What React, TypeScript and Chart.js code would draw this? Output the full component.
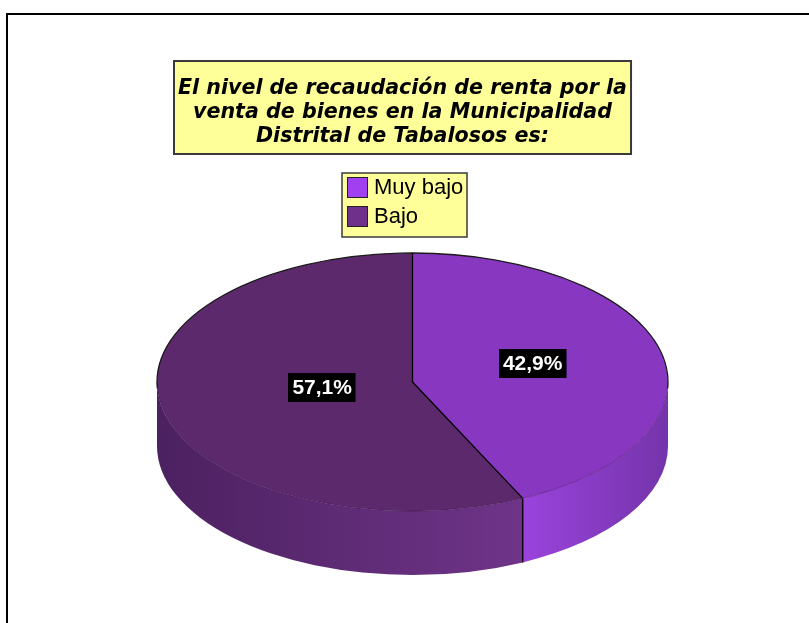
import React, { useEffect, useRef } from "react";
import { Chart, registerables } from "chart.js";

Chart.register(...registerables);

// ---- data ----
const categories = ["Muy bajo", "Bajo"];
const percentValues = [42.9, 57.1];
const titleLines = [
  "El nivel de recaudación de renta por la",
  "venta de bienes en la Municipalidad",
  "Distrital de Tabalosos es:",
];

// ---- styles ----
const legendColors = ["#A040F0", "#6E308A"];
const topColors = ["#8838C0", "#5C2A6C"];
const sideLeftColors = ["#9A43DC", "#4C2160"];
const sideRightColors = ["#7434AA", "#6F3489"];

const FONT = "'Liberation Sans', Arial, sans-serif";
const TITLE_FONT = `italic bold 20.6px 'DejaVu Sans', ${FONT}`;
const LEGEND_FONT = `22px ${FONT}`;
const LABEL_FONT = `bold 21px ${FONT}`;
const YELLOW = "#FFFF99";

const TILT = 129 / 255.5; // vertical squash of the pie
const DEPTH = 64; // thickness of the pie
const RADIUS = 255.5;
const TITLE_CX = 402.5;

const pie3dPlugin = {
  id: "pie3d",
  beforeDraw(chart: any) {
    const ctx: CanvasRenderingContext2D = chart.ctx;
    ctx.save();
    ctx.fillStyle = "#fff";
    ctx.fillRect(0, 0, chart.width, chart.height);

    // frame
    ctx.strokeStyle = "#000";
    ctx.lineWidth = 2;
    ctx.beginPath();
    ctx.moveTo(7, chart.height);
    ctx.lineTo(7, 14);
    ctx.lineTo(chart.width, 14);
    ctx.stroke();

    // title
    ctx.font = TITLE_FONT;
    const tw = Math.max(...titleLines.map((l) => ctx.measureText(l).width));
    const bx = Math.round(TITLE_CX - tw / 2 - 4);
    ctx.fillStyle = YELLOW;
    ctx.fillRect(bx, 61, tw + 8, 93);
    ctx.strokeStyle = "#3a3a3a";
    ctx.lineWidth = 2;
    ctx.strokeRect(bx, 61, tw + 8, 93);
    ctx.fillStyle = "#000";
    ctx.textAlign = "center";
    ctx.textBaseline = "alphabetic";
    titleLines.forEach((l, i) => ctx.fillText(l, TITLE_CX, 94 + i * 24));

    // legend
    const lx = 342, ly = 173, lw = 125, lh = 64;
    ctx.fillStyle = YELLOW;
    ctx.fillRect(lx, ly, lw, lh);
    ctx.strokeStyle = "#3a3a3a";
    ctx.lineWidth = 1.5;
    ctx.strokeRect(lx, ly, lw, lh);
    ctx.font = LEGEND_FONT;
    ctx.textAlign = "left";
    ctx.textBaseline = "middle";
    categories.forEach((c, i) => {
      const sy = ly + 4 + i * 29;
      ctx.fillStyle = legendColors[i];
      ctx.fillRect(lx + 5, sy, 21, 21);
      ctx.strokeStyle = "#222";
      ctx.lineWidth = 1;
      ctx.strokeRect(lx + 5.5, sy + 0.5, 20, 20);
      ctx.fillStyle = "#000";
      ctx.fillText(c, lx + 32, sy + 11);
    });
    ctx.restore();
  },
  beforeDatasetsDraw(chart: any) {
    const ctx: CanvasRenderingContext2D = chart.ctx;
    const arcs: any[] = chart.getDatasetMeta(0).data;
    const cx = arcs[0].x, cy = arcs[0].y, rx = arcs[0].outerRadius;
    const ry = rx * TILT;
    ctx.save();
    arcs.forEach((arc, i) => {
      const a = Math.max(arc.startAngle, 0);
      const b = Math.min(arc.endAngle, Math.PI);
      if (b <= a) return;
      const x1 = cx + rx * Math.cos(a);
      const x2 = cx + rx * Math.cos(b);
      const g = ctx.createLinearGradient(Math.min(x1, x2), 0, Math.max(x1, x2), 0);
      g.addColorStop(0, sideLeftColors[i]);
      g.addColorStop(1, sideRightColors[i]);
      ctx.fillStyle = g;
      ctx.beginPath();
      ctx.ellipse(cx, cy, rx, ry, 0, a, b, false);
      ctx.ellipse(cx, cy + DEPTH, rx, ry, 0, b, a, true);
      ctx.closePath();
      ctx.fill();
    });
    ctx.restore();
    ctx.save();
    ctx.translate(cx, cy);
    ctx.scale(1, TILT);
    ctx.translate(-cx, -cy);
  },
  afterDatasetsDraw(chart: any) {
    const ctx: CanvasRenderingContext2D = chart.ctx;
    ctx.restore();
    const arcs: any[] = chart.getDatasetMeta(0).data;
    const cx = arcs[0].x, cy = arcs[0].y, rx = arcs[0].outerRadius;
    const ry = rx * TILT;
    ctx.save();
    // front edge of top face
    ctx.strokeStyle = "rgba(40,0,60,0.35)";
    ctx.lineWidth = 1;
    ctx.beginPath();
    ctx.ellipse(cx, cy, rx, ry, 0, 0, Math.PI, false);
    ctx.stroke();
    // back outline
    ctx.strokeStyle = "#1a1a1a";
    ctx.lineWidth = 1.3;
    ctx.beginPath();
    ctx.ellipse(cx, cy, rx, ry, 0, Math.PI - 0.05, 2 * Math.PI + 0.05, false);
    ctx.stroke();
    // radial dividers and side dividers
    ctx.strokeStyle = "#000";
    ctx.lineWidth = 1.3;
    arcs.forEach((arc) => {
      const t = arc.startAngle;
      const px = cx + rx * Math.cos(t);
      const py = cy + ry * Math.sin(t);
      ctx.beginPath();
      ctx.moveTo(cx, cy);
      ctx.lineTo(px, py);
      ctx.stroke();
      const tn = ((t % (2 * Math.PI)) + 2 * Math.PI) % (2 * Math.PI);
      if (tn > 0.01 && tn < Math.PI - 0.01) {
        ctx.beginPath();
        ctx.moveTo(px, py);
        ctx.lineTo(px, py + DEPTH);
        ctx.stroke();
      }
    });
    // labels at sector centroids
    ctx.font = LABEL_FONT;
    ctx.textAlign = "center";
    ctx.textBaseline = "middle";
    arcs.forEach((arc, i) => {
      const half = (arc.endAngle - arc.startAngle) / 2;
      const mid = arc.startAngle + half;
      const d = ((2 / 3) * rx * Math.sin(half)) / half;
      const lx = cx + d * Math.cos(mid);
      const ly = cy + d * TILT * Math.sin(mid) - 5;
      const txt = percentValues[i].toFixed(1).replace(".", ",") + "%";
      const w = ctx.measureText(txt).width + 8;
      const h = 29;
      ctx.fillStyle = "#000";
      ctx.fillRect(Math.round(lx - w / 2), Math.round(ly - h / 2), w, h);
      ctx.fillStyle = "#fff";
      ctx.fillText(txt, lx, ly + 1);
    });
    ctx.restore();
  },
};

export default function App() {
  const ref = useRef<HTMLCanvasElement | null>(null);
  useEffect(() => {
    if (!ref.current) return;
    const chart = new Chart(ref.current, {
      type: "pie",
      data: {
        labels: categories,
        datasets: [
          {
            data: percentValues,
            backgroundColor: topColors,
            borderWidth: 0,
            hoverOffset: 0,
            radius: RADIUS,
            clip: false,
          } as any,
        ],
      },
      options: {
        responsive: false,
        animation: false,
        events: [],
        layout: { padding: { left: 16, right: 0, top: 250, bottom: 109 } },
        plugins: {
          legend: { display: false },
          title: { display: false },
          tooltip: { enabled: false },
        },
      },
      plugins: [pie3dPlugin],
    });
    return () => chart.destroy();
  }, []);
  return (
    <div style={{ position: "absolute", left: 0, top: 0, width: 809, height: 623, background: "#fff" }}>
      <canvas ref={ref} width={809} height={623} style={{ display: "block" }} />
    </div>
  );
}
